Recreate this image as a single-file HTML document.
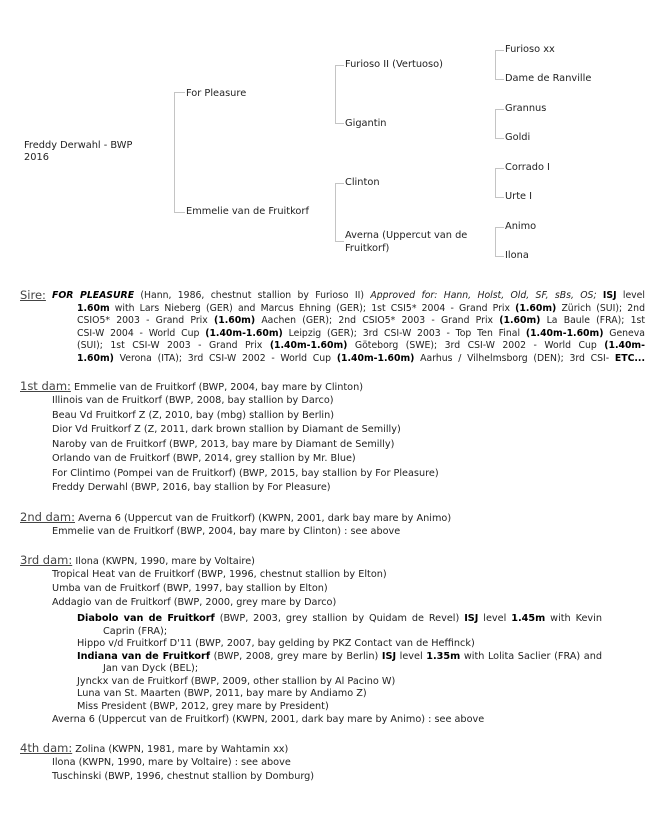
<!DOCTYPE html>
<html><head><meta charset="utf-8"><style>
body{margin:0;width:670px;height:813px;background:#fff;position:relative;font-family:"DejaVu Sans","Liberation Sans",sans-serif;color:#222;overflow:hidden}
.t{position:absolute;font-size:9.8px;line-height:12px;white-space:nowrap;color:#222}
.v{position:absolute;width:1px;background:#c4c4c4}
.h{position:absolute;height:1px;background:#c4c4c4}
.l{position:absolute;font-size:9.7px;line-height:12px;white-space:nowrap}
.hd{font-size:11.5px;text-decoration:underline;color:#444}
.sp{position:absolute;left:77px;width:568px;font-size:9.3px;line-height:12px;text-align:justify;text-align-last:justify;white-space:nowrap}
b{font-weight:bold;color:#000}
</style></head><body>
<!-- tree -->
<div class="t" style="left:24px;top:140px">Freddy Derwahl - BWP<br>2016</div>
<div class="v" style="left:174px;top:92px;height:121px"></div>
<div class="h" style="left:174px;top:92px;width:11px"></div>
<div class="h" style="left:174px;top:212px;width:11px"></div>
<div class="t" style="left:186px;top:88px">For Pleasure</div>
<div class="t" style="left:186px;top:206px">Emmelie van de Fruitkorf</div>

<div class="v" style="left:335px;top:65px;height:59px"></div>
<div class="h" style="left:335px;top:65px;width:9px"></div>
<div class="h" style="left:335px;top:123px;width:9px"></div>
<div class="v" style="left:335px;top:183px;height:59px"></div>
<div class="h" style="left:335px;top:183px;width:9px"></div>
<div class="h" style="left:335px;top:241px;width:9px"></div>
<div class="t" style="left:345px;top:59px">Furioso II (Vertuoso)</div>
<div class="t" style="left:345px;top:118px">Gigantin</div>
<div class="t" style="left:345px;top:177px">Clinton</div>
<div class="t" style="left:345px;top:229px;line-height:13px">Averna (Uppercut van de<br>Fruitkorf)</div>

<div class="v" style="left:495px;top:50px;height:30px"></div>
<div class="h" style="left:495px;top:50px;width:9px"></div>
<div class="h" style="left:495px;top:79px;width:9px"></div>
<div class="v" style="left:495px;top:109px;height:30px"></div>
<div class="h" style="left:495px;top:109px;width:9px"></div>
<div class="h" style="left:495px;top:138px;width:9px"></div>
<div class="v" style="left:495px;top:168px;height:30px"></div>
<div class="h" style="left:495px;top:168px;width:9px"></div>
<div class="h" style="left:495px;top:197px;width:9px"></div>
<div class="v" style="left:495px;top:227px;height:30px"></div>
<div class="h" style="left:495px;top:227px;width:9px"></div>
<div class="h" style="left:495px;top:256px;width:9px"></div>
<div class="t" style="left:505px;top:44px">Furioso xx</div>
<div class="t" style="left:505px;top:73px">Dame de Ranville</div>
<div class="t" style="left:505px;top:103px">Grannus</div>
<div class="t" style="left:505px;top:132px">Goldi</div>
<div class="t" style="left:505px;top:162px">Corrado I</div>
<div class="t" style="left:505px;top:191px">Urte I</div>
<div class="t" style="left:505px;top:221px">Animo</div>
<div class="t" style="left:505px;top:250px">Ilona</div>

<!-- sire -->
<div class="l" style="left:20px;top:289px"><span class="hd">Sire:</span></div>
<div class="sp" style="left:52px;width:593px;top:290px"><b><i>FOR PLEASURE</i></b> (Hann, 1986, chestnut stallion by Furioso II) <i>Approved for: Hann, Holst, Old, SF, sBs, OS;</i> <b>ISJ</b> level</div>
<div class="sp" style="top:302.5px"><b>1.60m</b> with Lars Nieberg (GER) and Marcus Ehning (GER); 1st CSI5* 2004 - Grand Prix <b>(1.60m)</b> Zürich (SUI); 2nd</div>
<div class="sp" style="top:315px">CSIO5* 2003 - Grand Prix <b>(1.60m)</b> Aachen (GER); 2nd CSIO5* 2003 - Grand Prix <b>(1.60m)</b> La Baule (FRA); 1st</div>
<div class="sp" style="top:327.5px">CSI-W 2004 - World Cup <b>(1.40m-1.60m)</b> Leipzig (GER); 3rd CSI-W 2003 - Top Ten Final <b>(1.40m-1.60m)</b> Geneva</div>
<div class="sp" style="top:340px">(SUI); 1st CSI-W 2003 - Grand Prix <b>(1.40m-1.60m)</b> Göteborg (SWE); 3rd CSI-W 2002 - World Cup <b>(1.40m-</b></div>
<div class="sp" style="top:352.5px"><b>1.60m)</b> Verona (ITA); 3rd CSI-W 2002 - World Cup <b>(1.40m-1.60m)</b> Aarhus / Vilhelmsborg (DEN); 3rd CSI- <b>ETC...</b></div>

<!-- 1st dam -->
<div class="l" style="left:20px;top:380px"><span class="hd">1st dam:</span> Emmelie van de Fruitkorf (BWP, 2004, bay mare by Clinton)</div>
<div class="l" style="left:52px;top:395px">Illinois van de Fruitkorf (BWP, 2008, bay stallion by Darco)</div>
<div class="l" style="left:52px;top:409.5px">Beau Vd Fruitkorf Z (Z, 2010, bay (mbg) stallion by Berlin)</div>
<div class="l" style="left:52px;top:424px">Dior Vd Fruitkorf Z (Z, 2011, dark brown stallion by Diamant de Semilly)</div>
<div class="l" style="left:52px;top:438.5px">Naroby van de Fruitkorf (BWP, 2013, bay mare by Diamant de Semilly)</div>
<div class="l" style="left:52px;top:453px">Orlando van de Fruitkorf (BWP, 2014, grey stallion by Mr. Blue)</div>
<div class="l" style="left:52px;top:467.5px">For Clintimo (Pompei van de Fruitkorf) (BWP, 2015, bay stallion by For Pleasure)</div>
<div class="l" style="left:52px;top:482px">Freddy Derwahl (BWP, 2016, bay stallion by For Pleasure)</div>

<!-- 2nd dam -->
<div class="l" style="left:20px;top:511px"><span class="hd">2nd dam:</span> Averna 6 (Uppercut van de Fruitkorf) (KWPN, 2001, dark bay mare by Animo)</div>
<div class="l" style="left:52px;top:526px">Emmelie van de Fruitkorf (BWP, 2004, bay mare by Clinton) : see above</div>

<!-- 3rd dam -->
<div class="l" style="left:20px;top:554px"><span class="hd">3rd dam:</span> Ilona (KWPN, 1990, mare by Voltaire)</div>
<div class="l" style="left:52px;top:569px">Tropical Heat van de Fruitkorf (BWP, 1996, chestnut stallion by Elton)</div>
<div class="l" style="left:52px;top:583px">Umba van de Fruitkorf (BWP, 1997, bay stallion by Elton)</div>
<div class="l" style="left:52px;top:597px">Addagio van de Fruitkorf (BWP, 2000, grey mare by Darco)</div>
<div class="sp" style="top:613px;width:525px;font-size:9.7px"><b>Diabolo van de Fruitkorf</b> (BWP, 2003, grey stallion by Quidam de Revel) <b>ISJ</b> level <b>1.45m</b> with Kevin</div>
<div class="l" style="left:103px;top:625.5px">Caprin (FRA);</div>
<div class="l" style="left:77px;top:638px">Hippo v/d Fruitkorf D'11 (BWP, 2007, bay gelding by PKZ Contact van de Heffinck)</div>
<div class="sp" style="top:650.5px;width:525px;font-size:9.7px"><b>Indiana van de Fruitkorf</b> (BWP, 2008, grey mare by Berlin) <b>ISJ</b> level <b>1.35m</b> with Lolita Saclier (FRA) and</div>
<div class="l" style="left:103px;top:663px">Jan van Dyck (BEL);</div>
<div class="l" style="left:77px;top:675.5px">Jynckx van de Fruitkorf (BWP, 2009, other stallion by Al Pacino W)</div>
<div class="l" style="left:77px;top:688px">Luna van St. Maarten (BWP, 2011, bay mare by Andiamo Z)</div>
<div class="l" style="left:77px;top:700.5px">Miss President (BWP, 2012, grey mare by President)</div>
<div class="l" style="left:52px;top:714px">Averna 6 (Uppercut van de Fruitkorf) (KWPN, 2001, dark bay mare by Animo) : see above</div>

<!-- 4th dam -->
<div class="l" style="left:20px;top:742px"><span class="hd">4th dam:</span> Zolina (KWPN, 1981, mare by Wahtamin xx)</div>
<div class="l" style="left:52px;top:757px">Ilona (KWPN, 1990, mare by Voltaire) : see above</div>
<div class="l" style="left:52px;top:771px">Tuschinski (BWP, 1996, chestnut stallion by Domburg)</div>
</body></html>
